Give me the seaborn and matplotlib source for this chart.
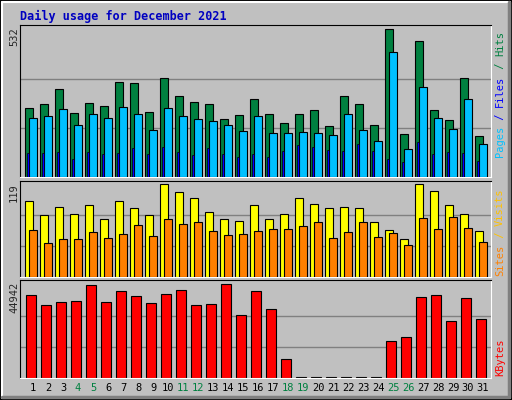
import numpy as np
import matplotlib
matplotlib.use("Agg")
import matplotlib.pyplot as plt
import seaborn as sns
from matplotlib.patches import Rectangle
from matplotlib.lines import Line2D

days = list(range(1, 32))
hits = [250, 264, 318, 232, 268, 257, 344, 340, 235, 355, 293, 271, 264, 210, 224, 282,
        228, 195, 228, 242, 185, 293, 264, 188, 532, 156, 489, 242, 206, 358, 148]
files = [213, 221, 246, 188, 228, 213, 253, 228, 170, 250, 221, 210, 203, 188, 166, 221,
         159, 159, 163, 159, 152, 228, 170, 130, 449, 101, 326, 213, 174, 282, 119]
pages = [87, 87, 90, 65, 90, 83, 87, 105, 83, 109, 90, 80, 105, 83, 72, 83,
         72, 94, 116, 109, 98, 94, 119, 94, 65, 54, 127, 83, 90, 87, 58]
visits = [97, 80, 90, 81, 93, 75, 97, 89, 79, 119, 109, 102, 84, 75, 72, 93,
          75, 81, 102, 94, 88, 90, 88, 71, 61, 49, 119, 111, 93, 81, 59]
sites = [61, 44, 49, 49, 58, 50, 55, 67, 53, 75, 68, 70, 59, 54, 55, 59,
         62, 62, 66, 70, 50, 58, 71, 51, 57, 41, 76, 62, 77, 63, 45]
kbytes = [40000, 35060, 36540, 37040, 44440, 36540, 41980, 39500, 36050, 40500, 42470,
          35060, 35550, 44942, 30120, 41980, 33090, 8890, 0, 0, 0, 0, 0, 0,
          17780, 19750, 39010, 40000, 27160, 38520, 28150]
weekend = [4, 5, 11, 12, 18, 19, 25, 26]

sns.set_style("white")
plt.rcParams['font.family'] = ['DejaVu Sans Mono']

BG = "#C0C0C0"
fig = plt.figure(figsize=(5.12, 4.0), dpi=100, facecolor=BG)
W, H = 512, 400

def px_axes(x0, y0, x1, y1):
    return fig.add_axes([x0 / W, 1 - y1 / H, (x1 - x0) / W, (y1 - y0) / H])

# 3D frame
fig.add_artist(Rectangle((0, 0), 1, 1, transform=fig.transFigure, fill=False, ec="black", lw=1.5))
fig.add_artist(Line2D([2 / W, 2 / W, 1 - 2 / W], [2 / H, 1 - 2 / H, 1 - 2 / H], transform=fig.transFigure, color="white", lw=1.5))
fig.add_artist(Line2D([2 / W, 1 - 3 / W, 1 - 3 / W], [3 / H, 3 / H, 1 - 2 / H], transform=fig.transFigure, color="#808080", lw=2.5))

fig.text(20 / W, 1 - 16 / H, "Daily usage for December 2021", color="#0000C0",
         fontsize=8.5, fontweight="bold", va="center")

xl = (0.133, 31.53)
x = np.array(days)

def style(ax, ymax, top):
    ax.set_facecolor(BG)
    ax.set_xlim(*xl)
    ax.set_ylim(0, top)
    for v in (ymax / 3, ymax * 2 / 3):
        ax.axhline(v, color="#808080", lw=1, zorder=0)
    ax.set_xticks([])
    ax.set_yticks([])
    for s in ("top", "left"):
        ax.spines[s].set_color("black")
    for s in ("bottom", "right"):
        ax.spines[s].set_color("white")

# top panel
ax1 = px_axes(20, 25, 491, 177)
style(ax1, 532, 547.6)
ax1.bar(x - 0.267, hits, width=0.5, color="#008040", ec="black", lw=0.8, zorder=2)
ax1.bar(x, files, width=0.5, color="#00C0FF", ec="black", lw=0.8, zorder=3)
ax1.bar(x - 0.335, pages, width=0.17, color="#0000FF", ec="black", lw=0.5, zorder=4)

# middle panel
ax2 = px_axes(20, 181, 491, 277)
style(ax2, 119, 123.3)
ax2.bar(x - 0.267, visits, width=0.5, color="#FFFF00", ec="black", lw=0.8, zorder=2)
ax2.bar(x, sites, width=0.5, color="#FF8000", ec="black", lw=0.8, zorder=3)

# bottom panel
ax3 = px_axes(20, 280, 491, 378)
style(ax3, 44942, 47065)
kb = np.maximum(np.array(kbytes), 250)
ax3.bar(x - 0.113, kb, width=0.667, color="#FF0000", ec="black", lw=0.8, zorder=2)

for d in days:
    c = "#008040" if d in weekend else "black"
    fig.text((20 + (d - xl[0]) * 15) / W, 1 - 388 / H, str(d), color=c,
             fontsize=7.5, ha="center", va="center")

# left max labels
for y, t in ((27, "532"), (183, "119"), (282, "44942")):
    fig.text(14 / W, 1 - y / H, t, rotation=90, fontsize=7.5, ha="center", va="top")

# right legends
def right_label(parts, ybottom):
    y = ybottom
    for t, c in parts:
        fig.text(500 / W, 1 - y / H, t, rotation=90, color=c, fontsize=7.5,
                 ha="center", va="bottom")
        y -= len(t) * 6.3

right_label([("Pages", "#00C0FF"), (" / ", "#0000FF"), ("Files", "#0000FF"),
             (" / ", "#008040"), ("Hits", "#008040")], 157)
right_label([("Sites", "#FF8000"), (" / ", "#FFC000"), ("Visits", "#FFC000")], 276)
right_label([("KBytes", "#FF0000")], 376)

fig.savefig("out.png", dpi=100, facecolor=BG)
